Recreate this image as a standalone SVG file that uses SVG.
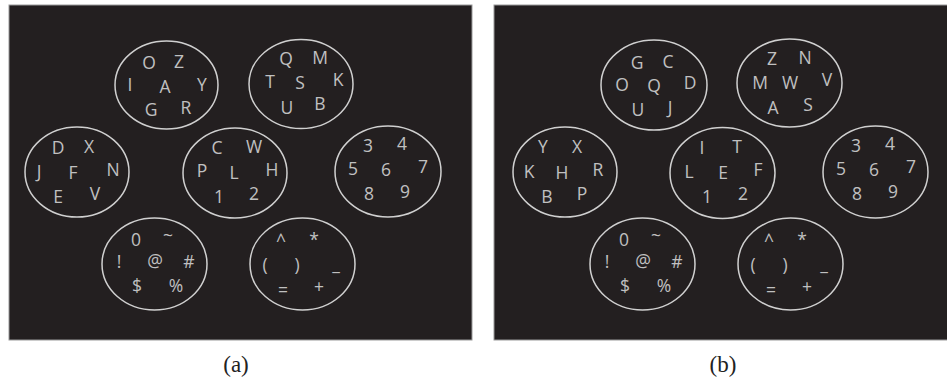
<svg xmlns="http://www.w3.org/2000/svg" width="947" height="379" viewBox="0 0 947 379">
<style>
.bg{fill:#231f20;stroke:#9a9a9a;stroke-width:1}
.ov{fill:none;stroke:#d0d0d0;stroke-width:1.5}
.t{font-family:"Open Sans","Liberation Sans",sans-serif;font-size:17.5px;fill:#c0c0c0;text-anchor:middle}
.cap{font-family:"Liberation Serif",serif;font-size:23px;fill:#222;text-anchor:middle}
</style>
<rect x="0" y="0" width="947" height="379" fill="#ffffff"/>
<rect class="bg" x="9" y="5" width="463" height="335"/>
<rect class="bg" x="494" y="5" width="460" height="335"/>

<g id="a1"><ellipse class="ov" cx="166.5" cy="85" rx="51.5" ry="44"/>
<text class="t" x="149" y="69">O</text><text class="t" x="179" y="68">Z</text><text class="t" x="130" y="91">I</text><text class="t" x="165" y="93">A</text><text class="t" x="202" y="91">Y</text><text class="t" x="151" y="116">G</text><text class="t" x="186" y="114">R</text></g>
<g id="a2"><ellipse class="ov" cx="301" cy="84" rx="52" ry="44.5"/>
<text class="t" x="286" y="65">Q</text><text class="t" x="320" y="64">M</text><text class="t" x="270" y="88">T</text><text class="t" x="300" y="89">S</text><text class="t" x="338" y="86">K</text><text class="t" x="287" y="114">U</text><text class="t" x="320" y="110">B</text></g>
<g id="a3"><ellipse class="ov" cx="77" cy="172" rx="52" ry="45"/>
<text class="t" x="58" y="154">D</text><text class="t" x="89" y="153">X</text><text class="t" x="39" y="178">J</text><text class="t" x="73" y="179">F</text><text class="t" x="113" y="176">N</text><text class="t" x="58" y="203">E</text><text class="t" x="95" y="200">V</text></g>
<g id="a4"><ellipse class="ov" cx="235" cy="173" rx="52" ry="45"/>
<text class="t" x="217" y="154">C</text><text class="t" x="254" y="153">W</text><text class="t" x="202" y="177">P</text><text class="t" x="234" y="179">L</text><text class="t" x="272" y="176">H</text><text class="t" x="219" y="203">1</text><text class="t" x="254" y="200">2</text></g>
<g id="a5"><ellipse class="ov" cx="388" cy="171.5" rx="53" ry="45.5"/>
<text class="t" x="368" y="152">3</text><text class="t" x="402" y="150">4</text><text class="t" x="353" y="175">5</text><text class="t" x="386" y="176">6</text><text class="t" x="423" y="173">7</text><text class="t" x="369" y="200">8</text><text class="t" x="405" y="198">9</text></g>
<g id="a6"><ellipse class="ov" cx="154.5" cy="264" rx="52.5" ry="46"/>
<text class="t" x="136" y="246">0</text><text class="t" x="168" y="242">~</text><text class="t" x="119" y="268">!</text><text class="t" x="155" y="267">@</text><text class="t" x="189" y="268">#</text><text class="t" x="137" y="292">$</text><text class="t" x="176" y="292">%</text></g>
<g id="a7"><ellipse class="ov" cx="302.5" cy="264" rx="52.5" ry="46"/>
<text class="t" x="281" y="247">^</text><text class="t" x="314" y="246">*</text><text class="t" x="265" y="271">(</text><text class="t" x="297" y="271">)</text><text class="t" x="336" y="270">_</text><text class="t" x="283" y="296">=</text><text class="t" x="319" y="293">+</text></g>

<g id="b1"><ellipse class="ov" cx="654" cy="85" rx="53" ry="45"/>
<text class="t" x="637" y="69">G</text><text class="t" x="668" y="68">C</text><text class="t" x="622" y="91">O</text><text class="t" x="654" y="92">Q</text><text class="t" x="690" y="89">D</text><text class="t" x="638" y="116">U</text><text class="t" x="670" y="114">J</text></g>
<g id="b2"><ellipse class="ov" cx="789.5" cy="83" rx="52.5" ry="44"/>
<text class="t" x="772" y="65">Z</text><text class="t" x="805" y="64">N</text><text class="t" x="760" y="89">M</text><text class="t" x="790" y="89">W</text><text class="t" x="827" y="86">V</text><text class="t" x="773" y="114">A</text><text class="t" x="808" y="111">S</text></g>
<g id="b3"><ellipse class="ov" cx="565" cy="172" rx="52" ry="45"/>
<text class="t" x="543" y="153">Y</text><text class="t" x="577" y="153">X</text><text class="t" x="529" y="178">K</text><text class="t" x="562" y="179">H</text><text class="t" x="598" y="176">R</text><text class="t" x="547" y="203">B</text><text class="t" x="582" y="200">P</text></g>
<g id="b4"><ellipse class="ov" cx="722.5" cy="173" rx="52.5" ry="45.5"/>
<text class="t" x="702" y="154">I</text><text class="t" x="737" y="153">T</text><text class="t" x="689" y="178">L</text><text class="t" x="723" y="179">E</text><text class="t" x="758" y="176">F</text><text class="t" x="707" y="203">1</text><text class="t" x="743" y="200">2</text></g>
<g id="b5"><ellipse class="ov" cx="875.5" cy="172" rx="52.5" ry="46"/>
<text class="t" x="856" y="152">3</text><text class="t" x="890" y="150">4</text><text class="t" x="841" y="175">5</text><text class="t" x="874" y="176">6</text><text class="t" x="911" y="173">7</text><text class="t" x="857" y="200">8</text><text class="t" x="893" y="198">9</text></g>
<g id="b6"><ellipse class="ov" cx="642.5" cy="264" rx="52.5" ry="46"/>
<text class="t" x="624" y="246">0</text><text class="t" x="656" y="242">~</text><text class="t" x="607" y="268">!</text><text class="t" x="643" y="267">@</text><text class="t" x="677" y="268">#</text><text class="t" x="625" y="292">$</text><text class="t" x="664" y="292">%</text></g>
<g id="b7"><ellipse class="ov" cx="790.5" cy="264" rx="52.5" ry="46"/>
<text class="t" x="769" y="247">^</text><text class="t" x="802" y="246">*</text><text class="t" x="753" y="271">(</text><text class="t" x="785" y="271">)</text><text class="t" x="824" y="270">_</text><text class="t" x="771" y="296">=</text><text class="t" x="807" y="293">+</text></g>

<text class="cap" x="236" y="372">(a)</text>
<text class="cap" x="723" y="372">(b)</text>
</svg>
